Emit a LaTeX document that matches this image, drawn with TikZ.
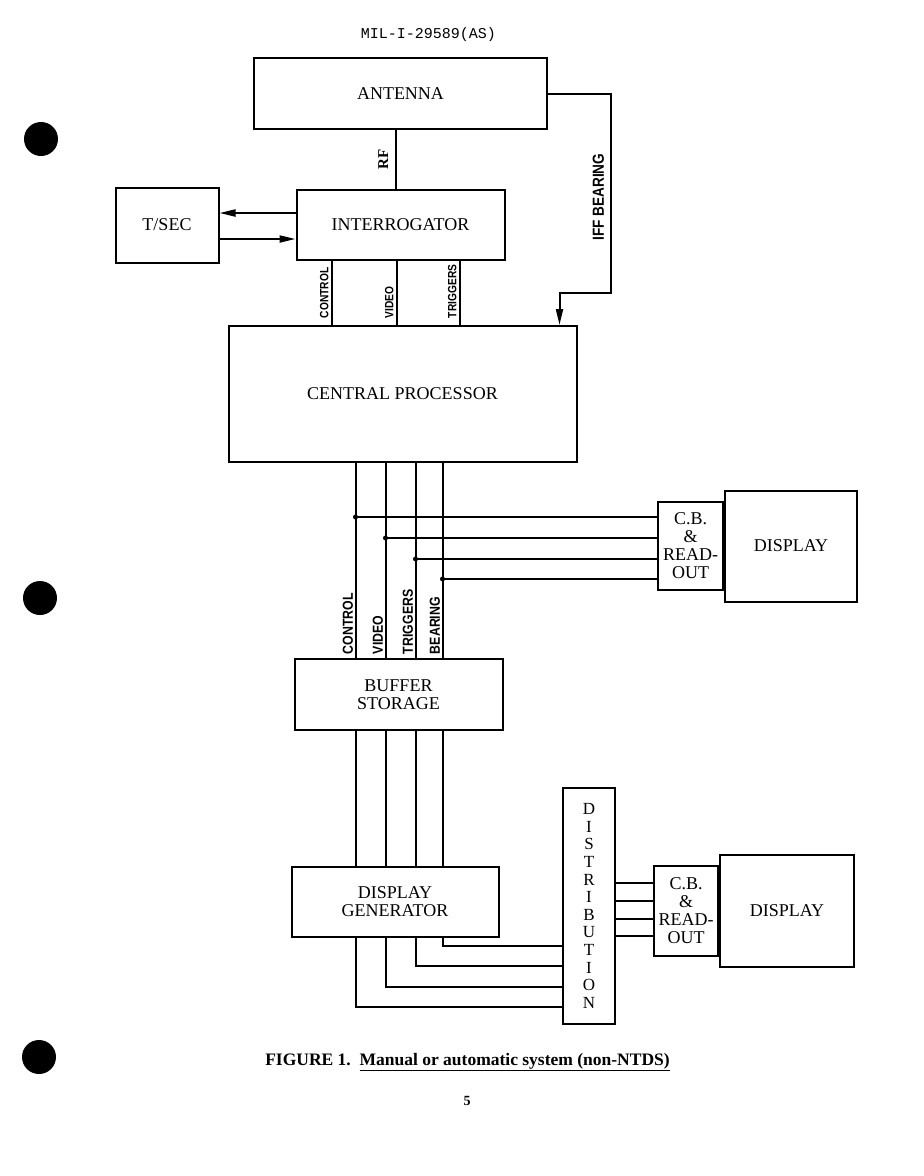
\documentclass[tikz,border=0pt]{standalone}
\usepackage{fontspec}
\setmainfont{Liberation Serif}
\newfontfamily\sigfont[FakeStretch=0.85]{Liberation Sans}
\newfontfamily\docfont{Liberation Mono}
\usetikzlibrary{positioning,calc,arrows.meta}

\begin{document}
\begin{tikzpicture}[
    x=1pt, y=-1pt,
    every node/.style={font=\fontsize{18}{18}\selectfont},
    block/.style={rectangle, draw, line width=2pt, inner sep=1pt, align=center},
    wire/.style={line width=2pt},
    arr/.style={wire, -{Triangle[length=16pt,width=7pt]}},
    sig/.style={font=\sigfont\bfseries\fontsize{12}{12}\selectfont, rotate=90, anchor=south west, inner xsep=6pt, inner ysep=2pt},
    bigsig/.style={sig, font=\sigfont\bfseries\fontsize{14.5}{14.5}\selectfont, inner xsep=3pt, inner ysep=1.5pt},
    tap/.style={circle, fill, inner sep=0pt, minimum size=5pt}
    ]
    \useasboundingbox (0,0) rectangle (924,1176);
    % punch holes
    \fill (41,139) circle (17);
    \fill (40,598) circle (17);
    \fill (39,1057) circle (17);
    % header
    \node[font=\docfont\fontsize{15}{15}\selectfont] (docid) at (428.5,35) {MIL-I-29589(AS)};
    % Top chain
    \node[block, minimum width=293pt, minimum height=71pt] (antenna) at (400.5,93.5) {ANTENNA};
    \node[block, minimum width=208pt, minimum height=70pt, below=59pt of antenna] (interr) {INTERROGATOR};
    \node[block, minimum width=103pt, minimum height=75pt, left=76pt of interr] (tsec) {T/SEC};
    \node[block, minimum width=348pt, minimum height=136pt, below=64pt of interr, xshift=2pt] (cp) {CENTRAL PROCESSOR};
    % Lower chain
    \node[block, minimum width=208pt, minimum height=71pt, below=195pt of cp, xshift=-4pt] (buffer) {BUFFER\\STORAGE};
    \node[block, minimum width=207pt, minimum height=70pt, below=135pt of buffer, xshift=-3.5pt] (dispgen) {DISPLAY\\GENERATOR};
    \node[block, minimum width=52pt, minimum height=236pt, font=\fontsize{17}{17.6}\selectfont] (distr) at (589,906) {D\\I\\S\\T\\R\\I\\B\\U\\T\\I\\O\\N};
    % Displays
    \node[block, minimum width=65pt, minimum height=88pt] (cb1) at (690.5,546) {C.B.\\\&\\READ-\\OUT};
    \node[block, minimum width=132pt, minimum height=111pt, right=0pt of cb1] (disp1) {DISPLAY};
    \node[block, minimum width=64pt, minimum height=90pt] (cb2) at (686,911) {C.B.\\\&\\READ-\\OUT};
    \node[block, minimum width=134pt, minimum height=112pt, right=0pt of cb2] (disp2) {DISPLAY};
    % RF
    \draw[wire] ([xshift=-4.5pt]antenna.south) -- ([xshift=-4.5pt]antenna.south |- interr.north)
        node[midway, rotate=90, anchor=south, inner sep=7pt, font=\bfseries\fontsize{15}{15}\selectfont] (rf) {RF};
    % IFF bearing
    \draw[arr] (antenna.east) -- ++(63,0) -- ++(0,199.5)
        node[pos=0.52, rotate=90, anchor=south, inner sep=6pt, font=\sigfont\bfseries\fontsize{16}{16}\selectfont] (iff) {IFF BEARING}
        -| ($(cp.north)+(157,0)$);
    % T/SEC
    \draw[arr] ([yshift=12pt]interr.west) -- ([yshift=12pt]interr.west -| tsec.east);
    \draw[arr] ([yshift=-14pt]interr.west -| tsec.east) -- ([yshift=-14pt]interr.west);
    % Interrogator to processor
    \foreach \dx/\lbl in {-69/CONTROL, -4/VIDEO, 59/TRIGGERS}
        \draw[wire] ([xshift=\dx pt]interr.south) -- ([xshift=\dx pt]interr.south |- cp.north)
            node[sig, pos=1] {\lbl};
    % Processor to buffer, taps to readout
    \foreach \dx/\dy/\lbl in {-47/29/CONTROL, -17/8/VIDEO, 13/-13/TRIGGERS, 40/-33/BEARING} {
        \coordinate (t) at ([yshift=\dy pt]cb1.west);
        \draw[wire] ([xshift=\dx pt]cp.south) -- ([xshift=\dx pt]cp.south |- buffer.north)
            node[bigsig, pos=1] {\lbl};
        \draw[wire] ([xshift=\dx pt]cp.south |- t) node[tap] {} -- (t);
        \draw[wire] ([xshift=\dx pt]cp.south |- buffer.south) -- ([xshift=\dx pt]cp.south |- dispgen.north);
    }
    % Generator to distribution
    \foreach \dx/\dy in {40/-40, 13/-60, -17/-81, -47/-101}
        \draw[wire] ([xshift=\dx pt]cp.south |- dispgen.south) |- ([yshift=\dy pt]distr.west);
    % Distribution to readout
    \foreach \dy in {28, 10, -8, -25}
        \draw[wire] ([yshift=\dy pt]cb2.west -| distr.east) -- ([yshift=\dy pt]cb2.west);
    % caption
    \node[anchor=base, font=\bfseries\fontsize{17.5}{17.5}\selectfont] (caption) at (467.5,1065)
        {FIGURE 1.\ \ \underline{Manual or automatic system (non-NTDS)}};
    \node[anchor=base, font=\bfseries\fontsize{14}{14}\selectfont] (pagenum) at (467,1105) {5};
\end{tikzpicture}
\end{document}
